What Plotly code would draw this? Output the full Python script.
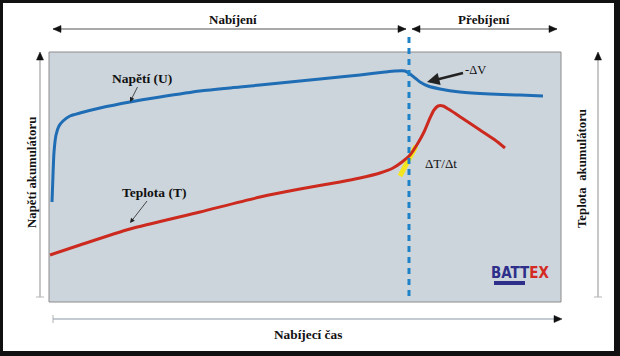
import plotly.graph_objects as go

# ---- data (time and values in relative units 0-100) ----
volt_t = [0.59, 0.78, 0.98, 1.37, 1.95, 2.73, 4.10, 6.05, 9.96, 15.82, 21.68, 29.49,
          37.30, 45.12, 52.93, 60.74, 65.63, 67.58, 69.53, 70.51, 71.48, 72.46, 74.02,
          76.37, 80.27, 86.13, 91.99, 96.48]
volt_v = [40.0, 50.8, 60.0, 66.8, 70.4, 72.4, 74.4, 75.6, 77.6, 80.0, 82.0, 84.4,
          86.0, 87.6, 89.2, 90.8, 92.0, 92.4, 92.4, 91.2, 89.6, 88.0, 86.4,
          85.2, 84.0, 83.2, 82.8, 82.4]
temp_t = [0.20, 6.05, 15.82, 29.49, 41.21, 49.02, 56.84, 60.74, 64.65, 67.19, 68.95,
          70.51, 72.07, 73.24, 74.41, 75.20, 75.98, 76.95, 78.32, 80.66, 84.18, 87.11, 89.06]
temp_v = [18.8, 22.8, 29.2, 36.0, 42.0, 45.2, 48.0, 49.6, 51.6, 53.6, 56.0,
          58.8, 63.6, 68.0, 73.6, 76.8, 78.4, 78.4, 76.8, 73.6, 68.8, 64.8, 61.6]
tangent_t = [68.55, 71.68]
tangent_v = [50.4, 62.4]
overcharge_start = 70.31

# ---- pixel helpers for decorations ----
L, R, T, B = 49, 561, 52, 302
def X(px):
    return (px - L) / (R - L)
def Y(py):
    return (B - py) / (B - T)

SERIF = "Liberation Serif"

fig = go.Figure()
fig.add_trace(go.Scatter(x=tangent_t, y=tangent_v, mode="lines",
                         line=dict(color="#f4e61e", width=5), hoverinfo="skip"))
fig.add_trace(go.Scatter(x=volt_t, y=volt_v, mode="lines",
                         line=dict(color="#1f6db4", width=3, shape="spline", smoothing=0.6)))
fig.add_trace(go.Scatter(x=temp_t, y=temp_v, mode="lines",
                         line=dict(color="#cc2a1e", width=3, shape="spline", smoothing=0.6)))

shapes = []
# white sheet on black frame
shapes.append(dict(type="rect", xref="paper", yref="paper", layer="below",
                   x0=X(3), x1=X(614), y0=Y(351), y1=Y(3),
                   fillcolor="white", line=dict(width=0)))
# plot area
shapes.append(dict(type="rect", xref="paper", yref="paper", layer="below",
                   x0=0, x1=1, y0=0, y1=1,
                   fillcolor="#cdd5dc", line=dict(color="#8c8c8c", width=1)))

def seg(x0, y0, x1, y1, color, width):
    shapes.append(dict(type="line", xref="paper", yref="paper",
                       x0=X(x0), y0=Y(y0), x1=X(x1), y1=Y(y1),
                       line=dict(color=color, width=width)))

def head(x, y, d, ln=8, w=3.5):
    if d == "r":
        pts = [(x, y), (x - ln, y - w), (x - ln, y + w)]
    elif d == "l":
        pts = [(x, y), (x + ln, y - w), (x + ln, y + w)]
    else:  # up
        pts = [(x, y), (x - w, y + ln), (x + w, y + ln)]
    path = "M " + " L ".join(f"{X(a):.5f},{Y(b):.5f}" for a, b in pts) + " Z"
    shapes.append(dict(type="path", xref="paper", yref="paper", path=path,
                       fillcolor="#111111", line=dict(color="#111111", width=0.5)))

# top arrows
seg(53, 29, 406, 29, "#555555", 1)
head(53, 29, "l"); head(406, 29, "r")
seg(412, 29, 557, 29, "#555555", 1)
head(412, 29, "l"); head(557, 29, "r")
# bottom time arrow
seg(53, 319, 556, 319, "#c3cad1", 2)
seg(53, 315, 53, 323, "#b0b0b0", 1)
head(562, 319, "r")
# left / right vertical axes
for xa in (40, 598):
    seg(xa, 297, xa, 58, "#b5b5b5", 1.5)
    seg(xa - 4, 297, xa + 4, 297, "#b5b5b5", 1)
    head(xa, 52, "u")
# dashed boundary
shapes.append(dict(type="line", xref="x", yref="paper",
                   x0=overcharge_start, x1=overcharge_start, y0=Y(296), y1=Y(33),
                   line=dict(color="#1e82c8", width=3, dash="6px,5px")))
# BATTEX underline bar
shapes.append(dict(type="rect", xref="paper", yref="paper",
                   x0=X(494), x1=X(525), y0=Y(285), y1=Y(281),
                   fillcolor="#2d2f8a", line=dict(width=0)))

ann = []
def txt(x, y, s, size=13, bold=True, angle=0, color="#111111", family=SERIF):
    ann.append(dict(xref="paper", yref="paper", x=X(x), y=Y(y), text=s,
                    showarrow=False, xanchor="center", yanchor="middle",
                    textangle=angle,
                    font=dict(family=family, size=size, color=color,
                              weight="bold" if bold else "normal")))

txt(233, 19, "Nabíjení", size=13)
txt(484, 19, "Přebíjení", size=13)
txt(308, 334, "Nabíjecí čas", size=13.3)
txt(32, 173, "Napětí akumulátoru", size=12.8, angle=-90)
txt(582, 169, "Teplota  akumulátoru", size=12.8, angle=-90)
txt(441, 163, "ΔT/Δt", size=13, bold=False)
txt(520, 273, "<span style='color:#2d2f8a'>BATT</span><span style='color:#d42a22'>EX</span>",
    size=15, family="Liberation Sans Narrow, DejaVu Sans Condensed, Arial Narrow, sans-serif")

# pointer annotations
def pointer(tip_t, tip_v, s, ax, ay, width, size, bold, hs):
    ann.append(dict(x=tip_t, y=tip_v, xref="x", yref="y", text=s,
                    showarrow=True, ax=ax, ay=ay, arrowhead=2, arrowsize=hs,
                    arrowwidth=width, arrowcolor="#222222",
                    font=dict(family=SERIF, size=size, color="#111111",
                              weight="bold" if bold else "normal")))

pointer(15.82, 80.0, "Napětí (U)", 12, -24, 0.8, 13.5, True, 1.2)
pointer(15.82, 31.6, "Teplota (T)", 24, -31, 0.8, 13.5, True, 1.2)
pointer(73.83, 88.0, "-ΔV", 48, -12, 2.5, 12.5, False, 1.0)

fig.update_layout(
    width=620, height=356,
    margin=dict(l=L, r=620 - R, t=T, b=356 - B, pad=0),
    paper_bgcolor="#111111", plot_bgcolor="rgba(0,0,0,0)",
    showlegend=False,
    font=dict(family=SERIF),
    xaxis=dict(range=[0, 100], visible=False, fixedrange=True),
    yaxis=dict(range=[0, 100], visible=False, fixedrange=True),
    shapes=shapes, annotations=ann,
)
fig.write_html("out.html", config={"displayModeBar": False},
               post_script="document.body.style.margin='0px';")
